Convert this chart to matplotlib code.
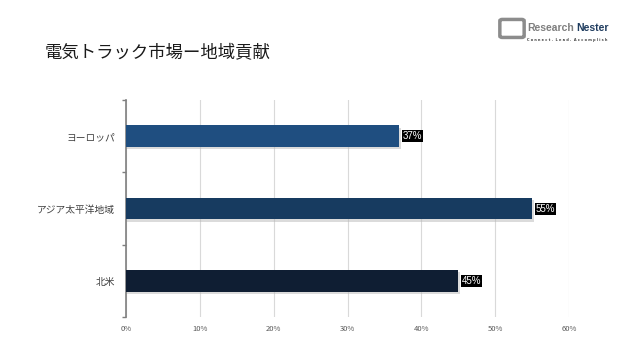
import matplotlib.pyplot as plt
import matplotlib.patches as patches

plt.rcParams['font.family'] = ['Noto Sans CJK JP', 'DejaVu Sans']

categories = ['北米', 'アジア太平洋地域', 'ヨーロッパ']
values = [45, 55, 37]
bar_colors = ['#0F1E33', '#173B60', '#1F4E80']
xticks = [0, 10, 20, 30, 40, 50, 60]

fig = plt.figure(figsize=(6.4, 3.6), dpi=100, facecolor='white')
ax = fig.add_axes([0.197, 0.119, 0.692, 0.603])

# soft shadow behind bars
ax.barh([i - 0.03 for i in range(len(values))], [v + 0.25 for v in values],
        height=0.3, color='#b8b8b8', alpha=0.5, zorder=2)
bars = ax.barh(range(len(values)), values, height=0.3, color=bar_colors, zorder=3)

for b, v in zip(bars, values):
    ax.text(v + 0.5, b.get_y() + b.get_height() / 2, f'{v}%', va='center', ha='left',
            fontsize=7, color='white', family=['Liberation Sans', 'DejaVu Sans'],
            bbox=dict(boxstyle='square,pad=0.1', fc='black', ec='none'), zorder=4)

ax.set_xlim(0, 60)
ax.set_ylim(-0.5, 2.5)
ax.set_xticks(xticks)
ax.set_xticklabels([f'{t}%' for t in xticks], fontsize=5.5, color='#595959')
ax.set_yticks(range(len(categories)))
ax.set_yticklabels(categories, fontsize=7, color='#404040')
ax.set_yticks([-0.5, 0.5, 1.5, 2.5], minor=True)
ax.tick_params(axis='y', which='major', length=0, pad=8)
ax.tick_params(axis='y', which='minor', length=3, color='#7f7f7f', width=1)
ax.tick_params(axis='x', length=0, pad=6)
ax.grid(axis='x', color='#d9d9d9', linewidth=0.8, zorder=0)
for s in ['top', 'right', 'bottom']:
    ax.spines[s].set_visible(False)
ax.spines['left'].set_color('#7f7f7f')
ax.spines['left'].set_linewidth(1.2)

fig.text(0.07, 0.855, '電気トラック市場ー地域貢献', fontsize=12.5, color='#1a1a1a', va='center')

# logo
icon = patches.FancyBboxPatch((0.785, 0.9), 0.03, 0.042, boxstyle='round,pad=0.004',
                              transform=fig.transFigure, fc='none', ec='#8c8c8c', lw=2.5)
fig.patches.append(icon)
t1 = fig.text(0.824, 0.922, 'Research', fontsize=7.5, color='#7f7f7f', va='center',
              family=['Liberation Sans', 'DejaVu Sans'], fontweight='bold')
fig.canvas.draw()
bb = t1.get_window_extent()
x2 = fig.transFigure.inverted().transform((bb.x1 + 2, 0))[0]
fig.text(x2, 0.922, 'Nester', fontsize=7.5, color='#1f3c5f', va='center',
         family=['Liberation Sans', 'DejaVu Sans'], fontweight='bold')
fig.text(0.824, 0.889, 'C o n n e c t .  L e a d .  A c c o m p l i s h', fontsize=2.5,
         color='#404040', va='center', family=['DejaVu Sans'], fontweight='bold')

fig.savefig('out.png', dpi=100, facecolor='white')
